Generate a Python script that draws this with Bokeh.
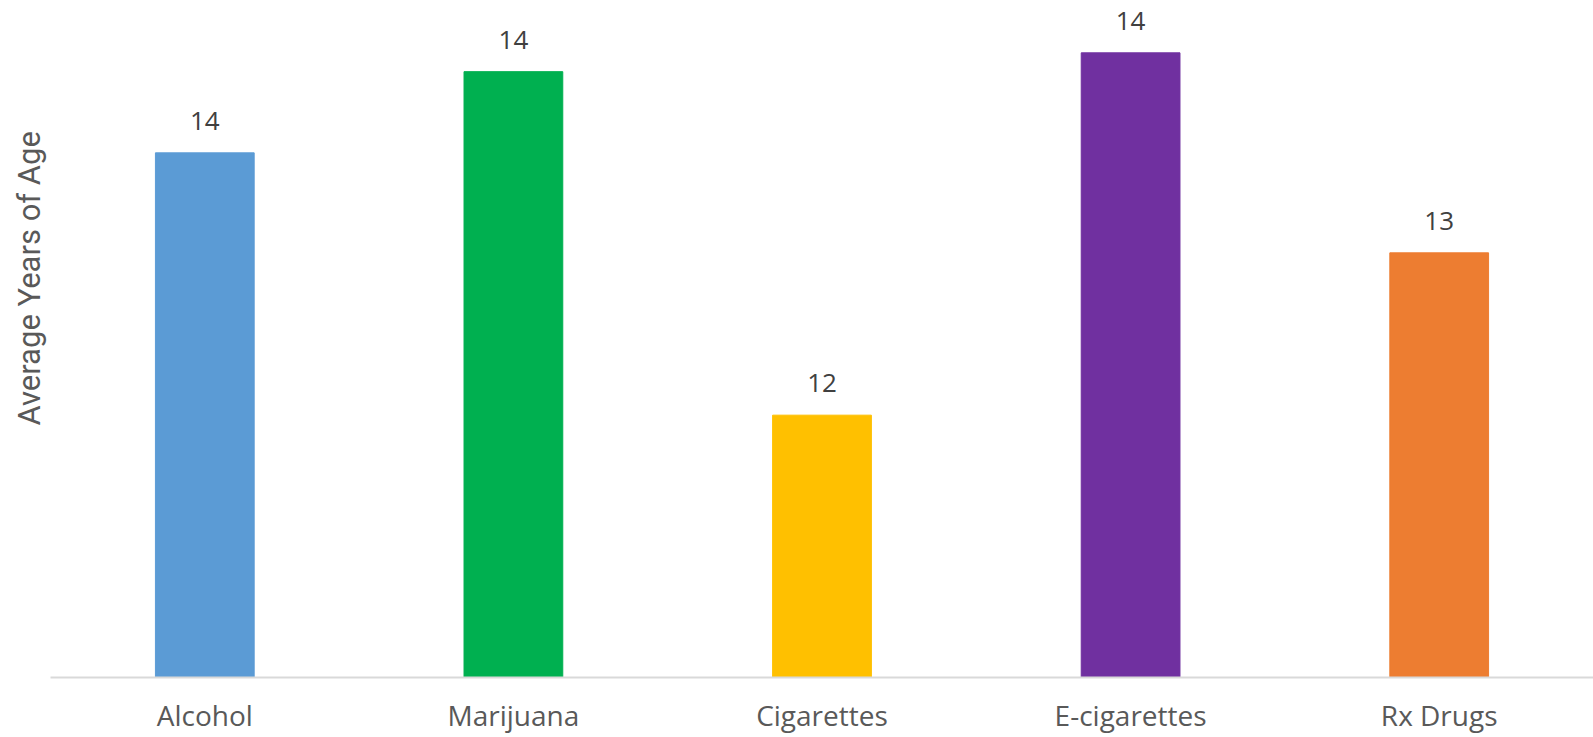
from bokeh.plotting import figure
from bokeh.models import ColumnDataSource, FactorRange, Range1d, LabelSet, Title
from bokeh.core.properties import value
from bokeh.embed import file_html
from bokeh.resources import INLINE

categories = ["Alcohol", "Marijuana", "Cigarettes", "E-cigarettes", "Rx Drugs"]
ages = [13.62, 14.18, 11.81, 14.31, 12.93]
colors = ["#5B9BD5", "#00B050", "#FFC000", "#7030A0", "#ED7D31"]
labels = [f"{round(v):d}" for v in ages]
y_title = "Average Years of Age"

source = ColumnDataSource(dict(cat=categories, val=ages, color=colors, lab=labels))

p = figure(
    width=1593, height=737,
    x_range=FactorRange(*categories, start=0, end=4.985),
    y_range=Range1d(10, 14.671),
    output_backend="svg", toolbar_location=None,
    min_border_left=50, min_border_right=0, min_border_top=0, min_border_bottom=60,
)
p.vbar(x="cat", top="val", bottom=10, width=0.32, color="color", source=source)

lbl = LabelSet(x="cat", y="val", text="lab", source=source,
               text_align="center", text_baseline="alphabetic", y_offset=23,
               text_font=value("Open Sans"), text_font_size="26px", text_color="#404040")
p.add_layout(lbl)

p.xgrid.visible = False
p.ygrid.visible = False
p.outline_line_color = None

xa = p.xaxis[0]
xa.axis_line_color = "#D9D9D9"
xa.axis_line_width = 2
xa.major_tick_line_color = None
xa.minor_tick_line_color = None
xa.major_label_text_font = "Open Sans"
xa.major_label_text_font_size = "28px"
xa.major_label_text_color = "#595959"
xa.major_label_standoff = 12

p.yaxis.visible = False

t = Title(text=y_title, align="left", offset=252, standoff=5,
          text_font="Roboto", text_font_style="normal", text_font_size="31px",
          text_color="#595959")
p.add_layout(t, "left")

open("out.html", "w").write(file_html(p, INLINE))
